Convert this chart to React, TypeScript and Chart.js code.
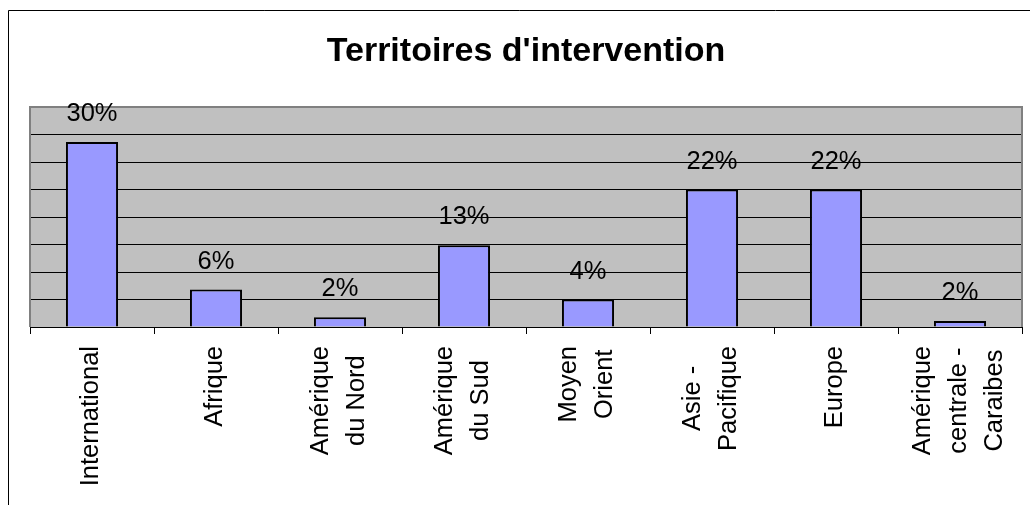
import React, { useEffect, useRef } from 'react';
import { Chart, registerables } from 'chart.js';

Chart.register(...registerables);

// ---- data ----
const chartTitle = "Territoires d'intervention";
const categoryLines: string[][] = [
  ['International'],
  ['Afrique'],
  ['Amérique', 'du Nord'],
  ['Amérique', 'du Sud'],
  ['Moyen', 'Orient'],
  ['Asie -', 'Pacifique'],
  ['Europe'],
  ['Amérique', 'centrale -', 'Caraibes'],
];
const shareValues: number[] = [29.6, 6.0, 1.55, 13.1, 4.4, 22.0, 22.0, 0.95];
const shareLabels: string[] = ['30%', '6%', '2%', '13%', '4%', '22%', '22%', '2%'];
const gridStep = 4.4;
const gridCount = 8;

const FONT = '"Liberation Sans", Arial, Helvetica, sans-serif';

const decorPlugin = {
  id: 'decor',
  beforeDraw(chart: any) {
    const { ctx, chartArea: a } = chart;
    ctx.save();
    ctx.fillStyle = '#ffffff';
    ctx.fillRect(0, 0, chart.width, chart.height);
    ctx.fillStyle = '#c0c0c0';
    ctx.fillRect(a.left, a.top, a.right - a.left, a.bottom - a.top);
    // outer frame (clipped by the window on the right and bottom)
    ctx.strokeStyle = '#000000';
    ctx.lineWidth = 1;
    ctx.beginPath();
    ctx.moveTo(8.5, chart.height + 5);
    ctx.lineTo(8.5, 10.5);
    ctx.lineTo(chart.width + 5, 10.5);
    ctx.stroke();
    ctx.restore();
  },
  afterDraw(chart: any) {
    const { ctx, chartArea: a } = chart;
    ctx.save();
    // plot area border (gray) on top / left / right
    ctx.strokeStyle = '#808080';
    ctx.lineWidth = 2;
    ctx.beginPath();
    ctx.moveTo(a.left, a.bottom);
    ctx.lineTo(a.left, a.top);
    ctx.lineTo(a.right, a.top);
    ctx.lineTo(a.right, a.bottom);
    ctx.stroke();

    // title
    ctx.fillStyle = '#000000';
    ctx.font = `bold 34px ${FONT}`;
    ctx.textAlign = 'center';
    ctx.textBaseline = 'alphabetic';
    ctx.fillText(chartTitle, (a.left + a.right) / 2, 61);

    // data labels
    ctx.font = `25.5px ${FONT}`;
    const meta = chart.getDatasetMeta(0);
    meta.data.forEach((el: any, i: number) => {
      ctx.fillText(shareLabels[i], el.x, el.y - 21);
    });

    // category labels, rotated, lines centred on each other
    const xScale = chart.scales.x;
    const lineGap = 36;
    categoryLines.forEach((lines, i) => {
      const cx = xScale.getPixelForTick(i);
      const w = Math.max(...lines.map((l) => ctx.measureText(l).width));
      ctx.save();
      ctx.translate(cx, a.bottom + 19);
      ctx.rotate(-Math.PI / 2);
      ctx.textAlign = 'center';
      lines.forEach((line, j) => {
        const off = 6 + (j - (lines.length - 1) / 2) * lineGap;
        ctx.fillText(line, -w / 2, off);
      });
      ctx.restore();
    });
    ctx.restore();
  },
};

export default function App() {
  const ref = useRef<HTMLCanvasElement | null>(null);
  useEffect(() => {
    if (!ref.current) return;
    const chart = new Chart(ref.current, {
      type: 'bar',
      data: {
        labels: categoryLines.map((l) => l.join(' ')),
        datasets: [
          {
            data: shareValues,
            backgroundColor: '#9999ff',
            borderColor: '#000000',
            borderWidth: 2,
            barPercentage: 0.42,
            categoryPercentage: 1,
          },
        ],
      },
      options: {
        responsive: false,
        animation: false,
        devicePixelRatio: 1,
        layout: { padding: { left: 30, right: 8, top: 107, bottom: 171 } },
        plugins: {
          legend: { display: false },
          tooltip: { enabled: false },
          title: { display: false },
        },
        scales: {
          x: {
            grid: {
              offset: true,
              drawOnChartArea: false,
              drawTicks: true,
              tickLength: 7,
              color: '#000000',
              lineWidth: 1,
            },
            border: { display: true, color: '#000000', width: 1 },
            ticks: { display: false },
          },
          y: {
            min: 0,
            max: gridStep * gridCount,
            afterBuildTicks: (scale: any) => {
              scale.ticks = Array.from({ length: gridCount + 1 }, (_, k) => ({ value: k * gridStep }));
            },
            grid: {
              drawTicks: false,
              color: (c: any) => (c.index === gridCount ? 'rgba(0,0,0,0)' : '#000000'),
              lineWidth: 1,
            },
            border: { display: false },
            ticks: { display: false },
          },
        },
      },
      plugins: [decorPlugin],
    });
    return () => chart.destroy();
  }, []);
  return (
    <div style={{ position: 'fixed', left: 0, top: 0, width: 1030, height: 505 }}>
      <canvas ref={ref} width={1030} height={505} style={{ display: 'block' }} />
    </div>
  );
}
